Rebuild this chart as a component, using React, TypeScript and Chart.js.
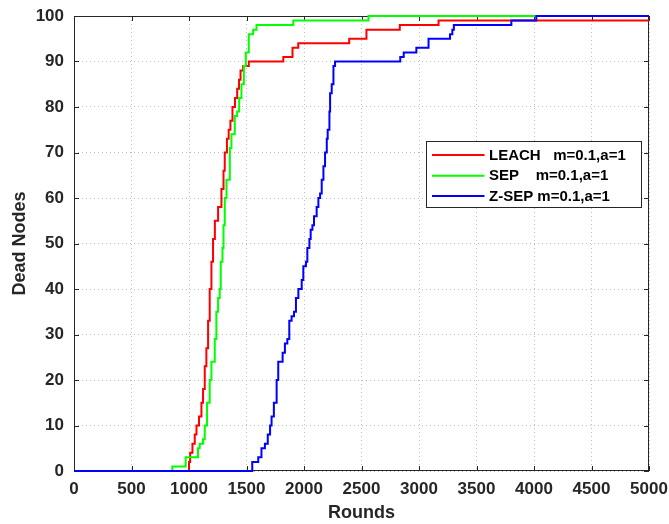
import React, { useEffect, useRef } from "react";
import { Chart, registerables } from "chart.js";

Chart.register(...registerables);

// ---- Data ----
const leachRounds = [0, 1000, 1010, 1030, 1050, 1065, 1087, 1108, 1122, 1137, 1151, 1166, 1180, 1195, 1209, 1225, 1253, 1282, 1300, 1311, 1330, 1345, 1360, 1378, 1400, 1419, 1435, 1448, 1471, 1520, 1820, 1900, 1950, 2393, 2543, 2833, 3170, 5000];
const leachDead = [0, 2, 4, 6, 8, 10, 12, 15, 18, 23, 27, 33, 40, 46, 51, 55, 58, 62, 66, 70, 73, 75, 77, 80, 82, 84, 86, 88, 89, 90, 91, 93, 94, 95, 97, 98, 99, 99];

const sepRounds = [0, 855, 971, 1078, 1093, 1122, 1137, 1157, 1180, 1195, 1224, 1238, 1253, 1267, 1276, 1291, 1300, 1311, 1326, 1355, 1369, 1398, 1419, 1436, 1456, 1477, 1494, 1520, 1558, 1587, 1907, 2561, 5000];
const sepDead = [0, 1, 3, 5, 6, 7, 10, 15, 20, 24, 29, 35, 38, 40, 46, 49, 54, 60, 64, 71, 74, 78, 79, 82, 85, 89, 92, 96, 97, 98, 99, 100, 100];

const zsepRounds = [0, 1550, 1602, 1630, 1660, 1685, 1705, 1718, 1738, 1762, 1776, 1814, 1834, 1855, 1872, 1892, 1913, 1930, 1951, 1980, 1994, 2017, 2029, 2047, 2058, 2073, 2087, 2110, 2125, 2140, 2154, 2169, 2183, 2198, 2206, 2221, 2227, 2241, 2256, 2270, 2837, 2867, 2977, 3083, 3270, 3290, 3303, 3803, 4020, 5000];
const zsepDead = [0, 2, 3, 5, 6, 8, 10, 12, 15, 20, 24, 26, 28, 29, 33, 34, 35, 38, 40, 42, 45, 46, 49, 51, 53, 54, 56, 58, 60, 61, 64, 67, 70, 73, 75, 79, 83, 85, 89, 90, 91, 92, 93, 95, 96, 97, 98, 99, 100, 100];

const seriesLabels = ["LEACH   m=0.1,a=1", "SEP    m=0.1,a=1", "Z-SEP m=0.1,a=1"];
const seriesColors = ["#ff0000", "#00ff00", "#0000ff"];

const xTitle = "Rounds";
const yTitle = "Dead Nodes";

const FONT = "'Liberation Sans', Arial, Helvetica, sans-serif";
const AXIS_COLOR = "#262626";

const toPoints = (xs: number[], ys: number[]) => xs.map((x, i) => ({ x, y: ys[i] }));

const framePlugin = {
  id: "matlabFrame",
  beforeDatasetsDraw(chart: any) {
    const { ctx, chartArea } = chart;
    const { left, right, top, bottom } = chartArea;
    ctx.save();
    ctx.strokeStyle = AXIS_COLOR;
    ctx.lineWidth = 1;
    ctx.setLineDash([]);
    ctx.strokeRect(Math.round(left) + 0.5, Math.round(top) + 0.5, Math.round(right - left) - 1, Math.round(bottom - top) - 1);
    const tl = 5;
    const xs = chart.scales.x;
    ctx.beginPath();
    xs.ticks.forEach((t: any) => {
      const px = Math.round(xs.getPixelForValue(t.value)) + 0.5;
      ctx.moveTo(px, bottom);
      ctx.lineTo(px, bottom - tl);
      ctx.moveTo(px, top);
      ctx.lineTo(px, top + tl);
    });
    const ys = chart.scales.y;
    ys.ticks.forEach((t: any) => {
      const py = Math.round(ys.getPixelForValue(t.value)) + 0.5;
      ctx.moveTo(left, py);
      ctx.lineTo(left + tl, py);
      ctx.moveTo(right, py);
      ctx.lineTo(right - tl, py);
    });
    ctx.stroke();
    ctx.restore();
  },
};

const legendPlugin = {
  id: "insideLegend",
  afterDraw(chart: any) {
    const { ctx, chartArea } = chart;
    const bx = Math.round(chartArea.right - 223) + 0.5;
    const by = 141.5;
    const bw = 215;
    const bh = 66;
    ctx.save();
    ctx.fillStyle = "#ffffff";
    ctx.fillRect(bx, by, bw, bh);
    ctx.strokeStyle = AXIS_COLOR;
    ctx.lineWidth = 1;
    ctx.setLineDash([]);
    ctx.strokeRect(bx, by, bw, bh);
    const rows = [155, 175.7, 196];
    ctx.font = `bold 15px ${FONT}`;
    ctx.textBaseline = "middle";
    ctx.textAlign = "left";
    seriesLabels.forEach((label, i) => {
      ctx.strokeStyle = seriesColors[i];
      ctx.lineWidth = 2;
      ctx.beginPath();
      ctx.moveTo(bx + 5.5, rows[i]);
      ctx.lineTo(bx + 58, rows[i]);
      ctx.stroke();
      ctx.fillStyle = "#000000";
      ctx.fillText(label, bx + 62.5, rows[i] + 0.5);
    });
    ctx.restore();
  },
};

export default function App() {
  const canvasRef = useRef<HTMLCanvasElement | null>(null);

  useEffect(() => {
    if (!canvasRef.current) return;
    const datasets = [
      { data: toPoints(leachRounds, leachDead), order: 2 },
      { data: toPoints(sepRounds, sepDead), order: 1 },
      { data: toPoints(zsepRounds, zsepDead), order: 0 },
    ].map((d, i) => ({
      label: seriesLabels[i],
      data: d.data,
      order: d.order,
      borderColor: seriesColors[i],
      backgroundColor: seriesColors[i],
      borderWidth: 2,
      pointRadius: 0,
      stepped: "before" as const,
      fill: false,
      clip: 3,
    }));

    const chart = new Chart(canvasRef.current, {
      type: "line",
      data: { datasets },
      options: {
        animation: false,
        responsive: false,
        devicePixelRatio: 1,
        layout: { padding: { top: 16, right: 20, left: 0, bottom: 0 } },
        plugins: { legend: { display: false }, tooltip: { enabled: false } },
        scales: {
          x: {
            type: "linear",
            min: 0,
            max: 5000,
            afterFit: (s: any) => {
              s.height = 53;
              s.paddingLeft = 0;
              s.paddingRight = 0;
            },
            ticks: {
              stepSize: 500,
              autoSkip: false,
              maxRotation: 0,
              padding: 8,
              color: AXIS_COLOR,
              font: { family: FONT, size: 17, weight: "bold" },
              callback: (v: any) => String(v),
            },
            grid: { color: "#bdbdbd", lineWidth: 1, drawTicks: false },
            border: { display: false, dash: [1, 3] },
            title: {
              display: true,
              text: xTitle,
              color: AXIS_COLOR,
              font: { family: FONT, size: 18, weight: "bold" },
              padding: { top: 1, bottom: 0 },
            },
          },
          y: {
            type: "linear",
            min: 0,
            max: 100,
            afterFit: (s: any) => {
              s.width = 74;
              s.paddingTop = 0;
              s.paddingBottom = 0;
            },
            ticks: {
              stepSize: 10,
              autoSkip: false,
              padding: 10,
              color: AXIS_COLOR,
              font: { family: FONT, size: 17, weight: "bold" },
              callback: (v: any) => String(v),
            },
            grid: { color: "#bdbdbd", lineWidth: 1, drawTicks: false },
            border: { display: false, dash: [1, 3] },
            title: {
              display: true,
              text: yTitle,
              color: AXIS_COLOR,
              font: { family: FONT, size: 18, weight: "bold" },
              padding: { top: 9, bottom: 0 },
            },
          },
        },
      },
      plugins: [framePlugin, legendPlugin],
    } as any);

    return () => chart.destroy();
  }, []);

  return (
    <div style={{ position: "absolute", left: 0, top: 0, width: 669, height: 524, background: "#ffffff" }}>
      <canvas ref={canvasRef} width={669} height={524} style={{ display: "block" }} />
    </div>
  );
}
